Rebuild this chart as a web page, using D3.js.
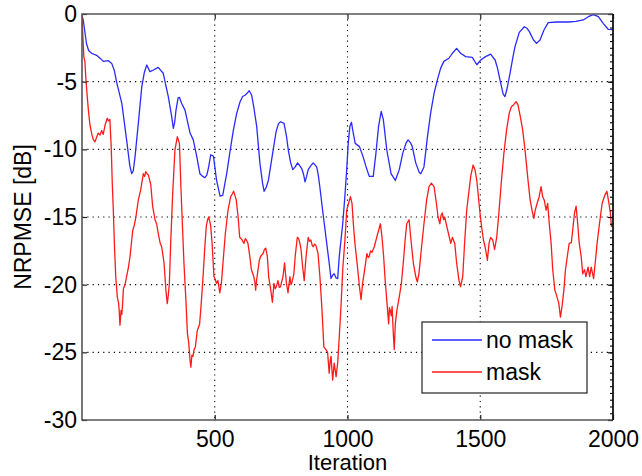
<!DOCTYPE html>
<html>
<head>
<meta charset="utf-8">
<script src="https://cdn.jsdelivr.net/npm/d3@7"></script>
<style>
  html, body { margin: 0; padding: 0; background: #fff; }
  svg text { font-family: "Liberation Sans", Arial, Helvetica, sans-serif; fill: #000; }
</style>
</head>
<body>
<svg id="chart" width="642" height="476"></svg>
<script>
// Convergence curves: NRPMSE (dB) per iteration
const seriesNames = ["no mask", "mask"];
const seriesColors = ["#2a2aff", "#ff1a1a"];

const noMaskIter = [0,5,10,17,25,36,55,70,80,99,112,122,130,150,168,180,187,193,200,212,225,235,244,256,269,287,306,325,338,344,349,354,362,367,375,388,407,419,432,444,455,463,470,476,485,495,507,520,530,545,557,570,582,595,605,614,622,630,639,648,658,670,680,686,694,702,710,718,731,740,748,761,770,777,786,794,803,812,820,827,834,840,846,852,862,871,884,890,896,905,919,931,938,944,950,957,963,969,982,990,997,1003,1009,1015,1019,1029,1045,1058,1070,1082,1097,1107,1117,1127,1135,1148,1164,1180,1195,1208,1220,1228,1237,1244,1257,1270,1276,1288,1301,1313,1326,1338,1351,1363,1382,1395,1411,1426,1445,1470,1487,1502,1520,1539,1556,1565,1577,1586,1593,1600,1612,1622,1631,1647,1666,1676,1685,1700,1712,1725,1740,1756,1788,1832,1860,1888,1907,1926,1945,1963,1982,2000];
const noMaskVal = [-0.1,-0.5,-1.2,-2.2,-2.7,-2.9,-3.05,-3.3,-3.5,-3.45,-3.65,-4.2,-5.0,-6.6,-9.3,-11.2,-11.8,-11.6,-10.5,-8.1,-5.4,-4.3,-3.77,-4.26,-4.14,-3.94,-4.38,-6.1,-7.6,-8.45,-8.0,-7.1,-6.2,-6.16,-6.6,-7.1,-8.8,-9.3,-10.5,-11.8,-12.0,-12.1,-11.9,-11.4,-10.4,-10.5,-12.3,-13.45,-13.4,-11.8,-10.2,-8.6,-7.4,-6.5,-6.1,-6.0,-5.85,-5.67,-6.0,-7.0,-8.3,-11.0,-12.5,-13.1,-12.8,-12.3,-11.3,-10.3,-8.7,-8.1,-7.96,-8.08,-9.0,-10.05,-11.0,-11.5,-11.3,-11.0,-11.2,-11.4,-11.8,-12.4,-12.0,-11.5,-11.2,-11.0,-11.3,-11.9,-12.8,-14.3,-16.5,-18.4,-19.55,-19.3,-19.2,-19.5,-19.55,-17.9,-15.5,-13.5,-11.5,-9.5,-8.3,-8.0,-8.5,-9.56,-9.8,-10.5,-11.3,-12.0,-12.0,-10.3,-8.3,-7.2,-7.8,-10.05,-11.8,-12.3,-11.5,-10.3,-9.56,-9.3,-9.5,-9.8,-11.0,-11.7,-11.8,-11.3,-9.1,-7.34,-5.86,-4.9,-4.0,-3.5,-3.27,-2.9,-2.54,-2.9,-3.15,-3.2,-3.75,-3.4,-3.15,-2.96,-3.4,-4.0,-5.1,-5.9,-6.1,-5.6,-4.4,-3.3,-2.4,-1.36,-0.94,-1.05,-1.3,-1.9,-2.17,-1.92,-1.18,-0.64,-0.59,-0.59,-0.55,-0.44,-0.2,-0.05,-0.2,-0.69,-1.13,-1.15];

const maskIter = [0,3,7,11,14,18,24,30,37,43,49,55,61,68,74,80,87,95,100,105,110,114,118,122,127,133,138,140,143,147,150,153,156,162,168,175,181,191,197,203,212,221,231,236,240,245,250,259,266,275,281,287,294,300,309,316,321,325,329,334,341,350,359,367,372,377,384,392,397,402,407,410,414,418,422,427,434,443,449,456,462,468,473,477,481,485,490,497,502,506,512,519,525,531,540,550,560,566,571,576,581,588,594,599,603,610,615,619,625,632,638,647,651,654,658,663,668,673,682,687,692,698,703,711,717,723,728,732,738,743,748,752,757,763,767,770,776,783,787,791,798,803,811,816,820,825,831,837,844,852,857,862,867,871,876,881,889,896,904,911,919,925,931,935,938,944,950,957,963,969,976,982,991,997,1004,1011,1017,1022,1028,1036,1045,1051,1057,1066,1073,1078,1082,1087,1092,1101,1110,1117,1124,1130,1136,1142,1149,1155,1158,1161,1165,1168,1172,1176,1180,1186,1195,1203,1210,1218,1223,1232,1238,1248,1257,1263,1269,1278,1288,1298,1307,1316,1326,1335,1341,1348,1352,1357,1362,1366,1374,1380,1389,1395,1404,1411,1420,1426,1434,1441,1449,1458,1464,1473,1480,1487,1493,1499,1505,1512,1518,1522,1527,1533,1539,1547,1554,1562,1571,1579,1589,1599,1609,1617,1626,1635,1642,1651,1660,1670,1680,1688,1695,1702,1707,1714,1722,1729,1735,1741,1748,1754,1760,1767,1773,1781,1789,1796,1802,1808,1815,1821,1828,1835,1843,1848,1855,1861,1867,1873,1880,1886,1893,1898,1906,1912,1918,1927,1933,1940,1949,1959,1969,1977,1984,1990,1994,2000];
const maskVal = [-0.3,-1.5,-3.2,-3.5,-4.6,-5.7,-7.1,-8.2,-8.9,-9.3,-9.44,-9.1,-8.8,-8.95,-8.6,-8.9,-8.2,-7.7,-7.9,-7.8,-9.8,-12.5,-14.5,-17,-19.4,-20.9,-21.4,-21.9,-23.0,-21.9,-22.2,-21.4,-20.3,-20.0,-19.4,-18.7,-17.9,-16.0,-15.6,-15.0,-13.75,-13.0,-11.8,-12.0,-11.65,-11.8,-11.9,-12.6,-14.2,-15.2,-15.5,-16.2,-16.9,-17.2,-18.4,-20.4,-21.4,-20.8,-19.9,-16.95,-13.5,-10.05,-9.07,-9.56,-12.5,-15.0,-18.4,-21.4,-23.6,-24.3,-25.6,-26.1,-25.2,-25.3,-24.8,-24.6,-23.4,-22.9,-21.4,-19.4,-17.4,-15.7,-15.2,-15.0,-15.3,-15.7,-16.95,-19.4,-19.6,-19.9,-19.7,-20.6,-19.9,-18.4,-16.2,-14.5,-13.5,-13.3,-13.1,-13.4,-13.75,-15.0,-16.5,-16.6,-16.7,-16.95,-16.6,-16.7,-16.95,-17.9,-18.9,-19.4,-19.8,-20.4,-19.6,-18.9,-18.2,-17.9,-17.7,-17.4,-17.3,-17.9,-19.4,-20.4,-21.3,-19.9,-20.3,-20.15,-19.7,-20.2,-20.15,-19.8,-19.4,-18.4,-19.3,-19.9,-20.6,-19.4,-20.0,-19.8,-19.2,-17.9,-16.5,-16.6,-16.9,-17.4,-18.7,-19.7,-17.9,-16.5,-16.8,-16.7,-17.1,-17.2,-17.0,-17.1,-17.7,-19.4,-21.9,-24.6,-24.8,-25.0,-26.55,-25.6,-25.3,-27.05,-25.8,-26.8,-25.8,-23.85,-21.4,-18.9,-16.5,-14.5,-14.0,-13.5,-14.0,-15.5,-16.95,-18.4,-20.15,-21.1,-19.9,-18.7,-17.7,-18.0,-17.9,-17.5,-17.6,-17.2,-16.5,-16.0,-15.5,-16.5,-17.9,-19.7,-21.4,-22.9,-21.7,-21.9,-22.3,-21.6,-23.4,-24.8,-22.9,-21.9,-20.9,-19.9,-18.4,-16.5,-15.5,-15.2,-16.5,-18.4,-19.4,-19.8,-19.2,-17.4,-15.5,-13.75,-12.76,-12.5,-12.76,-14.0,-15.0,-15.5,-14.9,-14.7,-15.2,-15.0,-15.7,-16.2,-16.95,-16.5,-16.95,-18.4,-19.7,-20.15,-19.4,-16.95,-14.5,-13.0,-12.0,-11.16,-11.5,-12.3,-13.5,-14.7,-15.7,-16.7,-17.2,-17.6,-18.2,-16.95,-16.5,-16.7,-17.4,-16.5,-14.5,-12.5,-10.3,-8.6,-7.34,-6.85,-6.7,-6.48,-6.7,-7.6,-8.6,-10.3,-12.3,-13.75,-14.5,-15.1,-14.5,-14.0,-13.5,-12.76,-13.5,-13.75,-14.5,-14.0,-15.5,-16.95,-18.9,-20.4,-20.9,-21.4,-22.4,-21.6,-20.4,-18.9,-17.9,-16.95,-16.9,-16.0,-14.7,-14.2,-15.5,-16.95,-17.9,-19.2,-18.9,-19.4,-18.7,-19.4,-18.7,-19.55,-18.4,-16.95,-15.5,-14.0,-13.4,-13.1,-13.9,-14.7,-15.7,-15.5];

const xTicks = [500, 1000, 1500, 2000];
const yTicks = [-30, -25, -20, -15, -10, -5, 0];
const xLabel = "Iteration";
const yLabel = "NRPMSE [dB]";

const svg = d3.select("#chart");
const plotL = 82, plotR = 613, plotT = 14, plotB = 420;

const x = d3.scaleLinear().domain([0, 2000]).range([plotL, plotR]);
const y = d3.scaleLinear().domain([-30, 0]).range([plotB, plotT]);
const plainNum = d => String(d);   // "1000", "-25" with an ASCII hyphen

// dotted grid
const grid = svg.append("g").attr("stroke", "#000").attr("stroke-width", 1.1)
  .attr("stroke-dasharray", "1.2,4.1");
grid.selectAll("line.gx").data(xTicks.filter(d => d < 2000)).join("line")
  .attr("class", "gx")
  .attr("x1", d => x(d)).attr("x2", d => x(d)).attr("y1", plotT).attr("y2", plotB);
grid.selectAll("line.gy").data(yTicks.filter(d => d > -30 && d < 0)).join("line")
  .attr("class", "gy")
  .attr("y1", d => y(d)).attr("y2", d => y(d)).attr("x1", plotL).attr("x2", plotR);

// curves
svg.append("clipPath").attr("id", "plotClip").append("rect")
  .attr("x", plotL).attr("y", plotT - 1).attr("width", plotR - plotL).attr("height", plotB - plotT + 1);

const line = d3.line().x(d => x(d[0])).y(d => y(d[1]));
const series = [
  d3.zip(noMaskIter, noMaskVal),
  d3.zip(maskIter, maskVal)
];
const curves = svg.append("g").attr("clip-path", "url(#plotClip)");
curves.selectAll("path").data(series).join("path")
  .attr("d", line)
  .attr("fill", "none")
  .attr("stroke", (d, i) => seriesColors[i])
  .attr("stroke-width", 1.3)
  .attr("stroke-linejoin", "round");

// axes
const xAxis = svg.append("g").attr("transform", `translate(0,${plotB})`)
  .call(d3.axisBottom(x).tickValues(xTicks).tickFormat(plainNum)
    .tickSizeInner(-5).tickSizeOuter(0).tickPadding(11));
const yAxis = svg.append("g").attr("transform", `translate(${plotL},0)`)
  .call(d3.axisLeft(y).tickValues(yTicks).tickFormat(plainNum)
    .tickSizeInner(-5).tickSizeOuter(0).tickPadding(5));
[xAxis, yAxis].forEach(g => {
  g.select(".domain").remove();
  g.selectAll(".tick line").attr("stroke", "#222").attr("stroke-width", 1.2);
  g.selectAll(".tick text").attr("font-size", 23).attr("fill", "#000");
});

// top ticks
svg.append("g").attr("transform", `translate(0,${plotT})`)
  .call(d3.axisTop(x).tickValues(xTicks).tickSizeInner(-5).tickSizeOuter(0).tickFormat(""))
  .call(g => g.select(".domain").remove())
  .call(g => g.selectAll(".tick line").attr("stroke", "#222").attr("stroke-width", 1.2));

// right ticks: major plus minor every 0.5 dB
svg.append("g").attr("transform", `translate(${plotR},0)`)
  .call(d3.axisRight(y).tickValues(d3.range(-30, 0.01, 0.5)).tickSizeInner(-3).tickSizeOuter(0).tickFormat(""))
  .call(g => g.select(".domain").remove())
  .call(g => g.selectAll(".tick line").attr("stroke", "#000").attr("stroke-width", 1.1));
svg.append("g").attr("transform", `translate(${plotR},0)`)
  .call(d3.axisRight(y).tickValues(yTicks).tickSizeInner(-5).tickSizeOuter(0).tickFormat(""))
  .call(g => g.select(".domain").remove())
  .call(g => g.selectAll(".tick line").attr("stroke", "#000").attr("stroke-width", 1.2));

// frame
svg.append("path")
  .attr("d", `M${plotR},${plotT}H${plotL}V${plotB}H${plotR}`)
  .attr("fill", "none").attr("stroke", "#555").attr("stroke-width", 1.6);
svg.append("line").attr("x1", plotR).attr("x2", plotR).attr("y1", plotT).attr("y2", plotB)
  .attr("stroke", "#111").attr("stroke-width", 1.8);

// axis titles
svg.append("text").attr("x", (plotL + plotR) / 2).attr("y", 470)
  .attr("text-anchor", "middle").attr("font-size", 22).text(xLabel);
svg.append("text").attr("transform", `translate(31,${(plotT + plotB) / 2}) rotate(-90)`)
  .attr("text-anchor", "middle").attr("font-size", 23).text(yLabel);

// legend
const lg = svg.append("g");
lg.append("rect").attr("x", 422).attr("y", 322).attr("width", 165).attr("height", 71)
  .attr("fill", "#fff").attr("stroke", "#222").attr("stroke-width", 1.2);
const rows = lg.selectAll("g.row").data(seriesNames).join("g")
  .attr("class", "row")
  .attr("transform", (d, i) => `translate(0,${340 + i * 32})`);
rows.append("line").attr("x1", 432).attr("x2", 482).attr("y1", 0).attr("y2", 0)
  .attr("stroke", (d, i) => seriesColors[i]).attr("stroke-width", 1.3);
rows.append("text").attr("x", 486).attr("y", 0).attr("dy", "0.35em")
  .attr("font-size", 23).text(d => d);
</script>
</body>
</html>
